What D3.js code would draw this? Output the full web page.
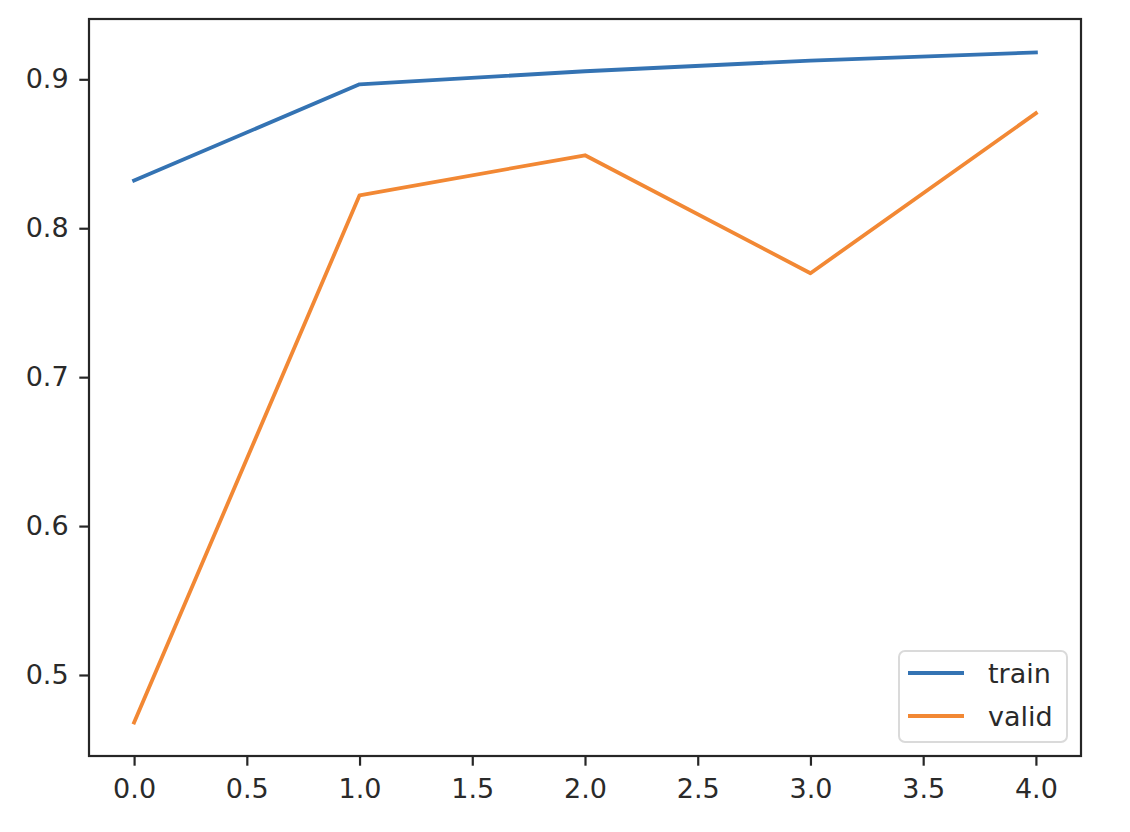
<!DOCTYPE html>
<html>
<head>
<meta charset="utf-8">
<script src="https://cdn.jsdelivr.net/npm/d3@7"></script>
<style>
  body { margin: 0; background: #fff; }
  svg { display: block; font-family: "DejaVu Sans", sans-serif; }
</style>
</head>
<body>
<div id="chart"></div>
<script>
// values
var epochs = [0, 1, 2, 3, 4];
var train = [0.832, 0.8966, 0.9054, 0.9126, 0.918];
var valid = [0.4681, 0.8221, 0.849, 0.7698, 0.8772];
var seriesNames = ["train", "valid"];
var seriesColors = ["#3473b3", "#f28834"];
var xTicks = [0, 0.5, 1, 1.5, 2, 2.5, 3, 3.5, 4];
var yTicks = [0.5, 0.6, 0.7, 0.8, 0.9];

var W = 1130, H = 832;
var margin = { top: 19, right: 49, bottom: 76, left: 89 };
var width = W - margin.left - margin.right;
var height = H - margin.top - margin.bottom;
var fontSize = 27;

var svg = d3.select("#chart").append("svg")
  .attr("width", W)
  .attr("height", H);

var g = svg.append("g")
  .attr("transform", "translate(" + margin.left + "," + margin.top + ")");

// matplotlib style 5% padding on both axes
var xExt = d3.extent(epochs);
var xPad = (xExt[1] - xExt[0]) * 0.05;
var x = d3.scaleLinear().domain([xExt[0] - xPad, xExt[1] + xPad]).range([0, width]);

var yExt = d3.extent(train.concat(valid));
var yPad = (yExt[1] - yExt[0]) * 0.05;
var y = d3.scaleLinear().domain([yExt[0] - yPad, yExt[1] + yPad]).range([height, 0]);

var tickLen = 9.7, tickPad = 9.7;

var xAxis = d3.axisBottom(x)
  .tickValues(xTicks)
  .tickFormat(function(d) { return d.toFixed(1); })
  .tickSize(tickLen)
  .tickSizeOuter(0)
  .tickPadding(tickPad);

var yAxis = d3.axisLeft(y)
  .tickValues(yTicks)
  .tickFormat(function(d) { return d.toFixed(1); })
  .tickSize(tickLen)
  .tickSizeOuter(0)
  .tickPadding(tickPad + 1);

var gx = g.append("g")
  .attr("transform", "translate(0," + height + ")")
  .call(xAxis);
gx.selectAll("text").attr("dy", "0.82em");

var gy = g.append("g").call(yAxis);

[gx, gy].forEach(function(a) {
  a.select(".domain").remove();
  a.selectAll("line").attr("stroke", "#262626").attr("stroke-width", 2.2);
  a.selectAll("text")
    .attr("fill", "#2a2a2a")
    .style("font-size", fontSize + "px")
    .style("font-family", "DejaVu Sans, sans-serif");
});

// lines
var line = d3.line()
  .x(function(d, i) { return x(epochs[i]); })
  .y(function(d) { return y(d); });

[train, valid].forEach(function(s, i) {
  g.append("path")
    .datum(s)
    .attr("fill", "none")
    .attr("stroke", seriesColors[i])
    .attr("stroke-width", 3.8)
    .attr("stroke-linejoin", "round")
    .attr("stroke-linecap", "square")
    .attr("d", line);
});

// frame
g.append("rect")
  .attr("width", width)
  .attr("height", height)
  .attr("fill", "none")
  .attr("stroke", "#262626")
  .attr("stroke-width", 2.2);

// legend, lower right
var lg = g.append("g")
  .attr("transform", "translate(" + (width - 182) + "," + (height - 105) + ")");

lg.append("rect")
  .attr("width", 168)
  .attr("height", 91)
  .attr("rx", 6)
  .attr("fill", "#fff")
  .attr("fill-opacity", 0.8)
  .attr("stroke", "#dadada")
  .attr("stroke-width", 2);

seriesNames.forEach(function(name, i) {
  var yy = 22 + i * 43;
  lg.append("line")
    .attr("x1", 9).attr("x2", 65)
    .attr("y1", yy).attr("y2", yy)
    .attr("stroke", seriesColors[i])
    .attr("stroke-width", 3.8);
  lg.append("text")
    .attr("x", 89)
    .attr("y", yy + 10)
    .attr("fill", "#2a2a2a")
    .style("font-size", fontSize + "px")
    .text(name);
});
</script>
</body>
</html>
